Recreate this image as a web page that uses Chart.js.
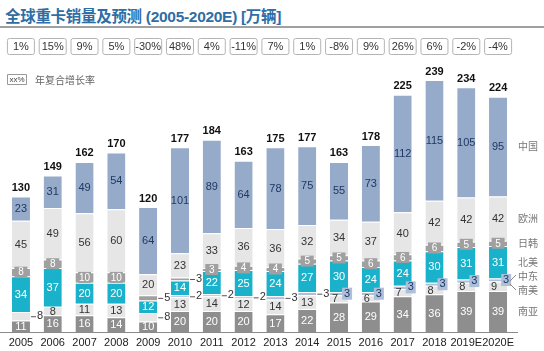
<!DOCTYPE html>
<html><head><meta charset="utf-8">
<script src="https://cdn.jsdelivr.net/npm/chart.js@4/dist/chart.umd.min.js"></script>
<style>
html,body{margin:0;padding:0;background:#fff;width:544px;height:351px;overflow:hidden}
#wrap{position:relative;width:544px;height:351px}
#c{position:absolute;left:0;top:0}
#title{position:absolute;left:5px;top:4px;font:bold 15.5px "Liberation Sans","Noto Sans CJK SC",sans-serif;color:#2f6ea5;white-space:nowrap;letter-spacing:-0.3px}
#rule{position:absolute;left:0;top:26px;width:544px;height:2px;background:#a0a0a0}
</style></head>
<body><div id="wrap">
<div id="title">全球重卡销量及预测 (2005-2020E) [万辆]</div>
<div id="rule"></div>
<canvas id="c" width="544" height="351"></canvas>
</div>
<script>
const years = ["2005","2006","2007","2008","2009","2010","2011","2012","2013","2014","2015","2016","2017","2018","2019E","2020E"];
const growth = ["1%","15%","9%","5%","-30%","48%","4%","-11%","7%","1%","-8%","9%","26%","6%","-2%","-4%"];
const totals = [130,149,162,170,120,177,184,163,175,177,163,178,225,239,234,224];
const southAsia   = [11,16,16,14,10,20,20,20,17,22,28,29,34,36,39,39];   // 南亚
const southAmerica= [8,8,11,13,8,13,14,12,14,13,7,6,7,8,8,9];          // 南美
const middleEast  = [0,0,0,0,0,2,2,2,3,3,3,3,3,3,3,3];                 // 中东
const northAmerica= [34,37,20,20,12,14,22,25,24,27,30,24,24,30,31,31]; // 北美
const japanKorea  = [8,8,10,10,5,3,3,4,4,5,5,6,6,6,5,5];               // 日韩
const europe      = [45,49,56,60,20,23,33,36,36,32,34,37,40,42,42,42]; // 欧洲
const china       = [23,31,49,54,64,101,89,64,78,75,55,73,112,115,105,95]; // 中国
const seriesNames = ["南亚","南美","中东","北美","日韩","欧洲","中国"];

const colors = ["#8e8e8e","#e6e6e6","#aebfd9","#1ab2ca","#a0a0a0","#e6e6e6","#96abc9"];
const textColors = ["#fff","#333","#1f3864","#fff","#fff","#333","#1f3864"];
// segments labelled outside the bar with a leader (dataset index -> category indices)
const callouts = {1:[0,4], 2:[5,6,7,8,9], 4:[4,5]};
const FONT = '"Liberation Sans","Noto Sans CJK SC",sans-serif';

const labelPlugin = {
  id:'labels',
  afterDatasetsDraw(chart){
    const ctx = chart.ctx, xs = chart.scales.x, area = chart.chartArea;
    ctx.save();
    // growth boxes
    ctx.font = '11px ' + FONT;
    ctx.textAlign='center'; ctx.textBaseline='middle';
    growth.forEach((g,i)=>{
      const x = xs.getPixelForValue(i);
      ctx.beginPath(); ctx.roundRect(x-13.5,38.5,27,16,2);
      ctx.fillStyle='#fff'; ctx.fill(); ctx.strokeStyle='#b4b4b4'; ctx.lineWidth=1; ctx.stroke();
      ctx.fillStyle='#333'; ctx.fillText(g,x,47);
    });
    // growth legend
    ctx.beginPath(); ctx.rect(7.5,74.5,19,10); ctx.strokeStyle='#999'; ctx.stroke();
    ctx.font='8px '+FONT; ctx.fillStyle='#444'; ctx.fillText('xx%',17,80);
    ctx.font='10px "Noto Sans CJK SC",sans-serif'; ctx.textAlign='left'; ctx.fillStyle='#666';
    ctx.fillText('年复合增长率',35,80);
    // baseline
    ctx.beginPath(); ctx.moveTo(0,area.bottom+0.5); ctx.lineTo(518,area.bottom+0.5);
    ctx.strokeStyle='#8a8a8a'; ctx.lineWidth=1; ctx.stroke();
    // segment labels
    chart.data.datasets.forEach((ds,di)=>{
      const meta = chart.getDatasetMeta(di);
      meta.data.forEach((bar,i)=>{
        const v = ds.data[i]; if(!v) return;
        const cy = (bar.y + bar.base)/2;
        const right = bar.x + bar.width/2;
        const h = Math.abs(bar.base - bar.y);
        ctx.font = '11px '+FONT; ctx.textBaseline='middle';
        if (callouts[di] && callouts[di].includes(i)) {
          ctx.strokeStyle='#555'; ctx.lineWidth=1;
          ctx.beginPath(); ctx.moveTo(right+1,cy+0.5); ctx.lineTo(right+6,cy+0.5); ctx.stroke();
          ctx.fillStyle='#333'; ctx.textAlign='left'; ctx.fillText(String(v),right+7,cy);
        } else if (di===2) {
          const bx = right-6, by = cy-6;
          ctx.fillStyle='#aebfd9'; ctx.fillRect(bx,by,10,12);
          ctx.fillStyle='#1f3864'; ctx.textAlign='center'; ctx.fillText(String(v),bx+5,cy);
        } else if (di===4 && h < 11) {
          ctx.fillStyle='#a0a0a0'; ctx.fillRect(bar.x-6.5,cy-5.5,13,11);
          ctx.font='10px '+FONT; ctx.fillStyle='#fff'; ctx.textAlign='center'; ctx.fillText(String(v),bar.x,cy+0.5);
        } else {
          let x = bar.x;
          if (di===1 && middleEast[i] && !callouts[2].includes(i)) x -= 4;
          ctx.fillStyle=textColors[di]; ctx.textAlign='center'; ctx.fillText(String(v),x,cy+0.5);
        }
      });
    });
    // totals
    const top = chart.getDatasetMeta(chart.data.datasets.length-1);
    ctx.font='bold 11px '+FONT; ctx.fillStyle='#111'; ctx.textAlign='center'; ctx.textBaseline='bottom';
    top.data.forEach((bar,i)=>{ ctx.fillText(String(totals[i]), bar.x, bar.y-3); });
    // series names at right, aligned to last bar
    const last = years.length-1;
    ctx.font='10px "Noto Sans CJK SC",sans-serif'; ctx.fillStyle='#777'; ctx.textAlign='left'; ctx.textBaseline='middle';
    chart.data.datasets.forEach((ds,di)=>{
      const bar = chart.getDatasetMeta(di).data[last];
      let y = (bar.y+bar.base)/2;
      if (di===2) y -= 4;
      if (di===1) y += 4;
      ctx.fillText(seriesNames[di],518,y);
    });
    ctx.strokeStyle='#888'; ctx.lineWidth=1;
    const mb = chart.getDatasetMeta(2).data[last];
    const my=(mb.y+mb.base)/2;
    ctx.beginPath(); ctx.moveTo(510,my+1); ctx.lineTo(516,my-5); ctx.stroke();
    ctx.beginPath(); ctx.moveTo(510,my+4); ctx.lineTo(516,my+10); ctx.stroke();
    ctx.restore();
  }
};

const seriesData = [southAsia,southAmerica,middleEast,northAmerica,japanKorea,europe,china];
new Chart(document.getElementById('c'),{
  type:'bar',
  data:{labels:years, datasets: seriesData.map((d,i)=>({label:seriesNames[i],data:d,backgroundColor:colors[i],
    borderColor:'#ffffff',borderWidth:{top:1,bottom:0,left:0,right:0},borderSkipped:false,
    barPercentage:0.57,categoryPercentage:1}))},
  options:{
    responsive:false,animation:false,
    layout:{padding:{left:5,right:30,top:59,bottom:0}},
    plugins:{legend:{display:false},tooltip:{enabled:false},title:{display:false}},
    scales:{
      x:{stacked:true,grid:{display:false,drawTicks:false},border:{display:false},
        ticks:{autoSkip:false,maxRotation:0,padding:4,color:'#222',font:{size:11,family:FONT}},
        afterFit(s){s.height=19;}},
      y:{stacked:true,display:false,min:0,max:260}
    }
  },
  plugins:[labelPlugin]
});
</script>
</body></html>
